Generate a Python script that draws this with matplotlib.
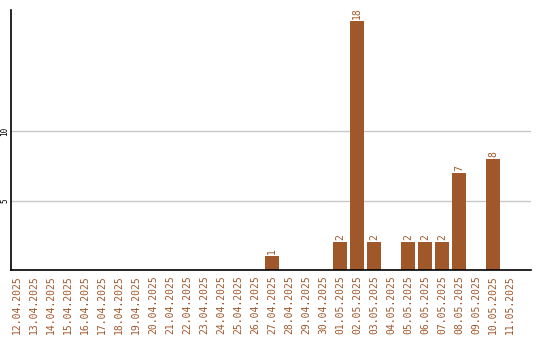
import matplotlib
matplotlib.use("Agg")
import matplotlib.pyplot as plt

dates = ["12.04.2025", "13.04.2025", "14.04.2025", "15.04.2025", "16.04.2025",
         "17.04.2025", "18.04.2025", "19.04.2025", "20.04.2025", "21.04.2025",
         "22.04.2025", "23.04.2025", "24.04.2025", "25.04.2025", "26.04.2025",
         "27.04.2025", "28.04.2025", "29.04.2025", "30.04.2025", "01.05.2025",
         "02.05.2025", "03.05.2025", "04.05.2025", "05.05.2025", "06.05.2025",
         "07.05.2025", "08.05.2025", "09.05.2025", "10.05.2025", "11.05.2025"]
counts = [0, 0, 0, 0, 0, 0, 0, 0, 0, 0,
          0, 0, 0, 0, 0, 1, 0, 0, 0, 2,
          18, 2, 0, 2, 2, 2, 7, 0, 8, 0]
yticks = [5, 10]

bar_color = "#a0572a"
label_color = "#a0572a"

fig = plt.figure(figsize=(5.4, 3.4), dpi=100)
ax = fig.add_axes([11/540, 70/340, 520/540, 260/340])

x = list(range(len(dates)))
ax.bar(x, counts, width=0.82, color=bar_color, zorder=3)
for xi, v in zip(x, counts):
    if v > 0:
        ax.annotate(str(v), (xi, v), xytext=(0, 1.5), textcoords="offset points",
                    rotation=90, ha="center", va="bottom", color=label_color,
                    fontsize=7, family="DejaVu Sans Mono")

ax.set_xlim(-0.353, 30.24)
ax.set_ylim(0, 18.77)
ax.set_xticks(x)
ax.set_xticklabels(dates, rotation=90, color=label_color, fontsize=7,
                   family="DejaVu Sans Mono")
ax.set_yticks(yticks)
ax.set_yticklabels([str(t) for t in yticks], rotation=90, fontsize=5.5,
                   family="DejaVu Sans Mono", va="center")
ax.tick_params(axis="x", length=0, pad=4)
ax.tick_params(axis="y", length=0, pad=1)
ax.grid(axis="y", color="#c8c8c8", linewidth=1, zorder=0)
for s in ["top", "right"]:
    ax.spines[s].set_visible(False)
for s in ["left", "bottom"]:
    ax.spines[s].set_color("black")
    ax.spines[s].set_linewidth(1.2)
    ax.spines[s].set_zorder(4)

fig.savefig("out.png", dpi=100)
